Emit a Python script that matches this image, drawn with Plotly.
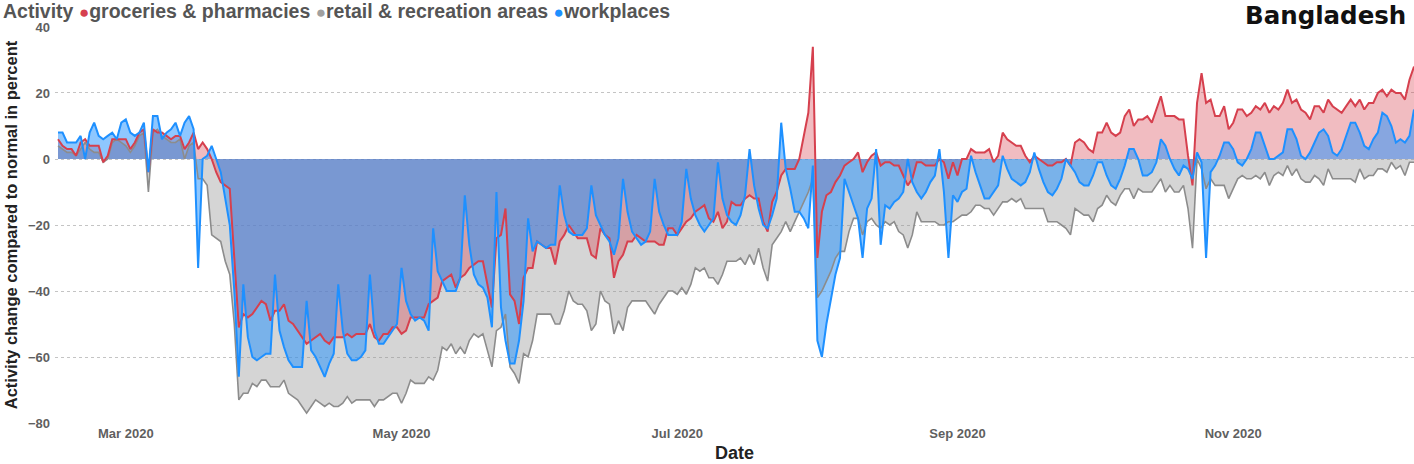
import pandas as pd
import plotly.graph_objects as go

start_date = "2020-02-15"

groceries = [
    6, 4, 3, 3, 1, 5, 6, 4, 4, 4,
    -1, 1, 6, 6, 6, 6, 3, 5, 8, 9,
    -4, 9, 8, 8, 7, 6, 7, 7, 3, 5,
    8, 3, 5, 3, 0, -4, -7, -8, -9, -30,
    -51, -47, -48, -47, -45, -43, -44, -49, -46, -46,
    -44, -49, -50, -52, -54, -56, -55, -54, -53, -55,
    -56, -54, -54, -54, -53, -54, -53, -53, -53, -50,
    -54, -55, -53, -53, -51, -51, -53, -52, -48, -48,
    -48, -48, -44, -43, -42, -37, -36, -35, -39, -36,
    -35, -33, -32, -31, -31, -38, -45, -24, -23, -15,
    -41, -43, -50, -36, -33, -33, -25, -26, -27, -27,
    -32, -25, -23, -20, -22, -24, -24, -24, -29, -30,
    -21, -23, -24, -36, -31, -29, -25, -25, -23, -24,
    -25, -25, -25, -26, -26, -21, -21, -23, -21, -19,
    -18, -16, -15, -14, -18, -19, -16, -21, -19, -13,
    -14, -14, -12, -11, -12, -12, -19, -22, -13, -10,
    -5, -3, -3, -3, 0, 7, 14, 34, -30, -16,
    -11, -10, -7, -5, -2, -1, 0, 2, -4, -1,
    1, 2, -2, -1, -1, -2, -2, -5, -8, -6,
    -1, -1, -2, -2, -2, 0, -1, -6, -1, -5,
    0, 0, 3, 2, 2, 2, 3, -1, 1, 8,
    6, 5, 4, 4, 1, -1, 1, 0, -1, -2,
    -2, -1, -1, 0, -2, 5, 6, 5, 3, 2,
    8, 8, 11, 8, 7, 8, 13, 15, 10, 12,
    12, 13, 11, 15, 19, 13, 13, 13, 12, 12,
    1, -8, 17, 26, 17, 18, 13, 13, 16, 9,
    11, 15, 15, 13, 14, 16, 15, 17, 14, 16,
    15, 17, 21, 17, 18, 15, 14, 12, 16, 16,
    14, 18, 16, 15, 14, 16, 18, 16, 18, 15,
    17, 17, 20, 21, 19, 21, 20, 20, 18, 24,
    28,
]

retail = [
    4, 3, 2, 2, 1, 3, 5, 3, 2, 2,
    -1, 0, 5, 6, 5, 4, 2, 4, 7, 8,
    -10, 8, 9, 7, 6, 5, 5, 6, 0, 4,
    5, -6, -6, -8, -23, -24, -25, -31, -35, -50,
    -73, -71, -71, -68, -69, -67, -67, -69, -69, -69,
    -67, -71, -72, -73, -75, -77, -75, -73, -74, -75,
    -74, -75, -75, -74, -72, -74, -73, -73, -73, -73,
    -75, -73, -73, -72, -71, -71, -74, -71, -67, -68,
    -68, -68, -66, -67, -64, -57, -58, -56, -59, -57,
    -59, -55, -53, -54, -53, -58, -63, -52, -51, -47,
    -63, -65, -68, -59, -60, -55, -47, -47, -47, -47,
    -50, -50, -46, -40, -43, -44, -44, -46, -52, -50,
    -40, -43, -44, -53, -49, -52, -45, -43, -43, -43,
    -43, -45, -47, -44, -42, -40, -40, -41, -39, -41,
    -38, -33, -34, -33, -36, -36, -38, -35, -31, -31,
    -31, -30, -32, -29, -32, -27, -33, -37, -26, -24,
    -22, -19, -22, -19, -16, -13, -10, -6, -42, -40,
    -37, -34, -30, -28, -28, -22, -18, -18, -23, -19,
    -18, -20, -21, -19, -20, -19, -22, -23, -27, -23,
    -16, -19, -19, -19, -19, -20, -20, -19, -19, -18,
    -17, -17, -16, -14, -14, -15, -15, -17, -15, -13,
    -13, -12, -13, -12, -15, -15, -15, -15, -15, -19,
    -19, -19, -20, -21, -23, -15, -16, -17, -17, -19,
    -15, -14, -11, -13, -14, -11, -9, -9, -12, -9,
    -10, -10, -10, -8, -6, -10, -8, -10, -10, -8,
    -15, -27, 0, -3, -9, -6, -8, -8, -8, -12,
    -9, -6, -5, -6, -6, -5, -6, -4, -8, -5,
    -4, -5, -2, -5, -3, -6, -7, -7, -5, -6,
    -8, -3, -6, -6, -6, -6, -6, -7, -3, -6,
    -5, -5, -3, -3, -4, -1, -3, -2, -5, -1,
    -1,
]

workplaces = [
    8, 8, 5, 5, 5, 7, 0, 8, 11, 7,
    6, 7, 8, 6, 11, 12, 8, 7, 8, 11,
    -4, 13, 13, 6, 8, 9, 11, 7, 11, 13,
    9, -33, 0, 1, 4, 0, -4, -12, -20, -40,
    -66, -38, -54, -60, -61, -60, -59, -59, -35, -52,
    -57, -61, -63, -63, -63, -43, -58, -60, -63, -66,
    -62, -59, -38, -52, -59, -61, -61, -60, -58, -35,
    -52, -56, -56, -54, -52, -50, -33, -43, -47, -49,
    -48, -49, -52, -21, -34, -37, -40, -40, -40, -36,
    -11, -26, -35, -38, -39, -42, -51, -10, -45, -55,
    -62, -62, -55, -43, -18, -28, -25, -26, -27, -26,
    -26, -8, -17, -22, -23, -23, -23, -21, -8, -17,
    -20, -23, -25, -29, -24, -6, -16, -22, -24, -26,
    -25, -22, -6, -16, -20, -23, -23, -23, -19, -3,
    -12, -17, -20, -22, -20, -18, -1, -12, -17, -19,
    -20, -17, -11, 3, -8, -15, -20, -21, -17, -12,
    11, -3, -9, -16, -16, -18, -21, -2, -55, -60,
    -50, -42, -35, -30, -6, -10, -14, -18, -30, -15,
    -12, 3, -26, -14, -15, -13, -12, -10, 0, -7,
    -10, -12, -10, -7, -5, 3, -10, -30, -11, -13,
    -10, -9, 1, -4, -8, -12, -12, -10, -8, 1,
    -3, -6, -7, -8, -7, -4, 2, -3, -7, -10,
    -11, -9, -6, 0, -2, -4, -7, -8, -8, -5,
    -1, -1, -5, -8, -9, -6, -2, 3, 3, 0,
    -5, -5, -4, -1, 6, 4, 0, -3, -5, -2,
    -3, -6, 2, -1, -30, -4, -2, 1, 5, 5,
    3, -1, -2, 0, 3, 8, 8, 4, 0, 0,
    1, 2, 9, 9, 6, 1, 0, 2, 5, 8,
    9, 7, 2, 1, 3, 7, 11, 11, 8, 4,
    3, 6, 8, 14, 13, 10, 5, 6, 5, 7,
    15,
]

y_ticks = [-80, -60, -40, -20, 0, 20, 40]

# (name, values, line colour, fill colour, line width)
series = [
    ("retail & recreation areas", retail, "#8c8c8c", "rgba(150,150,150,0.40)", 1.6),
    ("groceries & pharmacies", groceries, "#d6404e", "rgba(214,64,78,0.35)", 2.0),
    ("workplaces", workplaces, "#1e90ff", "rgba(30,144,255,0.50)", 2.0),
]
legend_order = ["groceries & pharmacies", "retail & recreation areas", "workplaces"]
legend_dot = {"groceries & pharmacies": "#d6404e",
              "retail & recreation areas": "#a0a0a0",
              "workplaces": "#1e90ff"}

fig = go.Figure()
# filled areas first
for name, vals, lc, fc, lw in series:
    dates = pd.date_range(start_date, periods=len(vals), freq="D")
    fig.add_trace(go.Scatter(
        x=dates, y=vals, mode="lines", name=name, legendgroup=name,
        line=dict(color=fc, width=0), fill="tozeroy", fillcolor=fc,
        showlegend=False, hoverinfo="skip",
    ))
# lines on top of all fills
for name, vals, lc, fc, lw in series:
    dates = pd.date_range(start_date, periods=len(vals), freq="D")
    fig.add_trace(go.Scatter(
        x=dates, y=vals, mode="lines", name=name, legendgroup=name,
        line=dict(color=lc, width=lw), showlegend=False,
    ))

# legend row drawn as one text line: "Activity ● name ● name ● name"
parts = ["<b>Activity</b> "]
for nm in legend_order:
    parts.append("<span style='color:%s;font-size:17px'>●</span><b>%s</b> " % (legend_dot[nm], nm.replace("&", "&amp;")))
legend_text = "".join(parts).rstrip()

PLOT_L, PLOT_T, PLOT_B = 55, 26, 424
PW, PH = 1414 - PLOT_L, PLOT_B - PLOT_T

axis_font = dict(family="Liberation Sans, Arial, sans-serif", size=13, color="#5f5f5f", weight="bold")

fig.update_layout(
    width=1414, height=464,
    margin=dict(l=PLOT_L, r=0, t=PLOT_T, b=464 - PLOT_B, autoexpand=False),
    plot_bgcolor="white", paper_bgcolor="white",
    font=dict(family="Liberation Sans, Arial, sans-serif"),
    showlegend=False,
    xaxis=dict(
        type="date",
        range=["2020-02-14 08:00", "2020-12-11 00:00"],
        tickformat="%b %Y", dtick="M2", tick0="2020-03-01",
        showgrid=False, zeroline=False, showline=False, ticks="",
        tickfont=axis_font,
        title=dict(text="Date", font=dict(size=18, color="#222222", weight="bold"), standoff=6),
    ),
    yaxis=dict(
        range=[-80.3, 40.3],
        tickvals=y_ticks,
        showgrid=True, gridcolor="#c4c4c4", griddash="dot", gridwidth=1,
        zeroline=False, showline=False, ticks="",
        tickfont=axis_font, ticklabelstandoff=4,
        title=dict(text="Activity change compared to normal in percent",
                   font=dict(size=16.5, color="#222222", weight="bold"), standoff=6),
    ),
    annotations=[
        dict(text=legend_text, xref="paper", yref="paper",
             x=(2 - PLOT_L) / PW, y=1 + (PLOT_T - 10.5) / PH,
             xanchor="left", yanchor="middle", showarrow=False, align="left", borderpad=0,
             font=dict(family="Liberation Sans, Arial, sans-serif", size=19.5, color="#555555")),
        dict(text="Bangladesh", xref="paper", yref="paper",
             x=(1407 - PLOT_L) / PW, y=1 + (PLOT_T - 15) / PH,
             xanchor="right", yanchor="middle", showarrow=False, borderpad=0,
             font=dict(family="DejaVu Sans, sans-serif", size=24.5, color="#111111", weight="bold")),
    ],
)

fig.write_html("out.html", config={"displayModeBar": False},
               post_script="document.body.style.margin='0';document.body.style.overflow='hidden';")
